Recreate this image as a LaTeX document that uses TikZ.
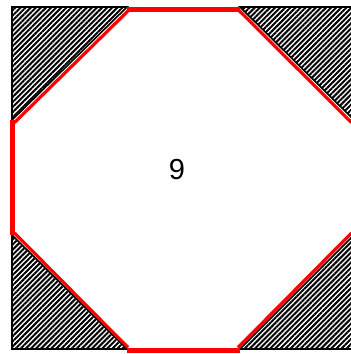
\documentclass[tikz,border=0pt]{standalone}
\usepackage{fontspec}
\setmainfont{Liberation Sans}
\usetikzlibrary{patterns.meta}

\begin{document}
\begin{tikzpicture}[x=1pt, y=-1pt,
  corner/.style={draw=black, line width=1.6pt, line join=miter,
                 pattern={Lines[angle=45, distance=3.6pt, line width=2pt]}},
  side/.style={red, line width=5pt},
  slant/.style={red, line width=3.2pt}]
  \useasboundingbox (0,0) rectangle (351,354);
  \clip (0,0) rectangle (351,354);
  % cut-off corners, hatched
  \draw[corner] (12,7) -- (127,7) -- (12,120) -- cycle;
  \draw[corner] (240,7) -- (354,7) -- (354,120) -- cycle;
  \draw[corner] (12,235) -- (12,349) -- (127,349) -- cycle;
  \draw[corner] (240,349) -- (354,349) -- (354,235) -- cycle;
  % octagon outline
  \draw[side] (127,9.5) -- (240,9.5);
  \draw[side] (127,350.5) -- (240,350.5);
  \draw[side] (12.5,120) -- (12.5,235);
  \draw[slant] (129.5,9.5) -- (14.5,122.5);
  \draw[slant] (238,9.5) -- (351.5,122.5);
  \draw[slant] (14.5,233) -- (128,347.5);
  \draw[slant] (238,347.5) -- (351.5,233);
  % cell number
  \node[font=\fontsize{29}{29}\selectfont] (num) at (177,170) {9};
\end{tikzpicture}
\end{document}
